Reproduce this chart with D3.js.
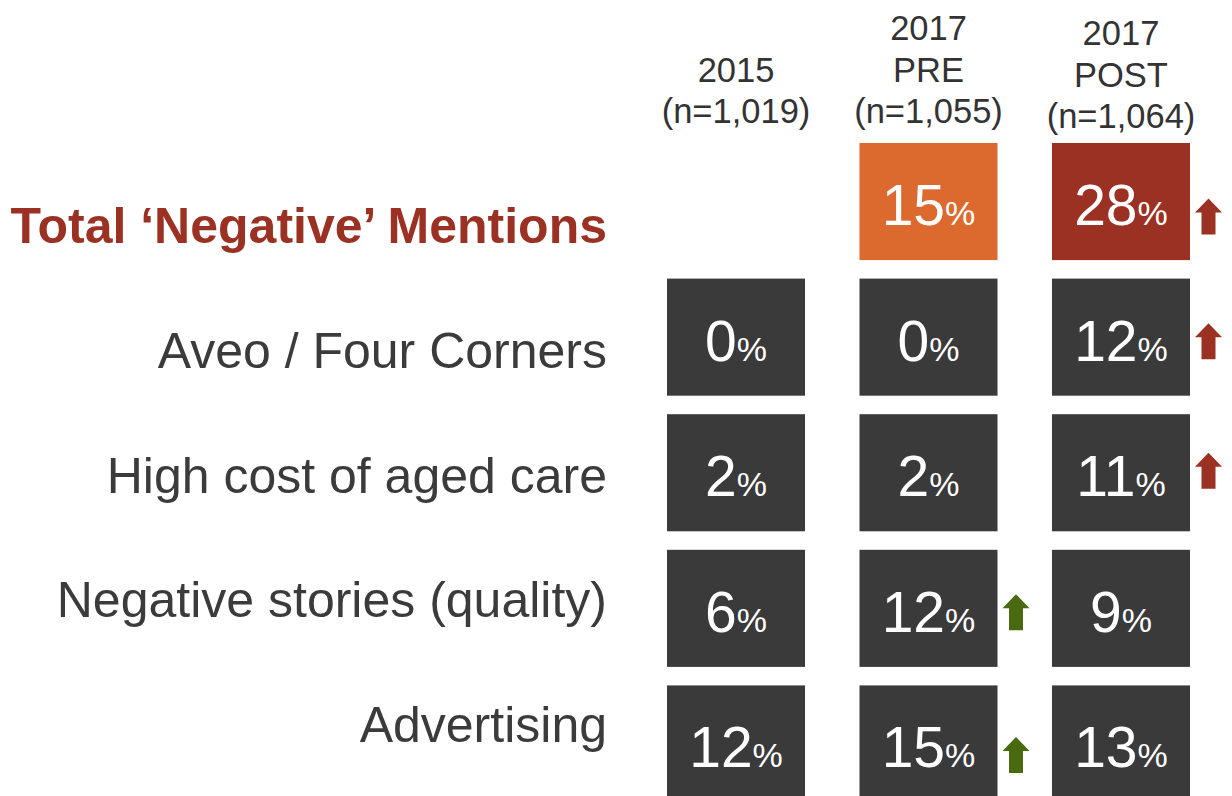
<!DOCTYPE html>
<html>
<head>
<meta charset="utf-8">
<script src="https://cdn.jsdelivr.net/npm/d3@7"></script>
<style>
  html, body { margin: 0; padding: 0; background: #fff; }
  svg { display: block; font-family: "Liberation Sans", Arial, sans-serif; }
</style>
</head>
<body>
<svg id="main_svg_container" width="1232" height="796"></svg>
<script>
// ---- data ----
var row_labels = ["Total \u2018Negative\u2019 Mentions", "Aveo / Four Corners", "High cost of aged care",
                  "Negative stories (quality)", "Advertising"];
var columns = ["2015", "2017 PRE", "2017 POST"];
var column_headers = [["2015", "(n=1,019)"], ["2017", "PRE", "(n=1,055)"], ["2017", "POST", "(n=1,064)"]];

var values_2015 = [null, 0, 2, 6, 12];
var values_pre = [15, 0, 2, 12, 15];
var values_post = [28, 12, 11, 9, 13];

// significant increase markers
var up_pre = [false, false, false, true, true];
var up_post = [true, true, true, false, false];

// ---- layout / styles ----
var box_color = "#3a3a3a";
var total_colors = { "2017 PRE": "#dc6a2f", "2017 POST": "#9b3123" };
var arrow_colors = { "2017 PRE": "#4a6a12", "2017 POST": "#9b3123" };
var header_dy = [0, 0, 5];
var arrow_dy = [15, 4, -2, 4, 11];

var svg = d3.select("#main_svg_container");

var x = d3.scaleBand()
    .domain(columns)
    .range([667, 1190])
    .paddingInner(0.283);

var y = d3.scaleBand()
    .domain(d3.range(row_labels.length))
    .range([143, 802.5])
    .paddingInner(0.1365);

var label_y = d3.scalePoint()
    .domain(d3.range(row_labels.length))
    .range([243, 742]);

// build cells
var cells = [];
var series = [values_2015, values_pre, values_post];
var ups = [null, up_pre, up_post];
columns.forEach(function(col, ci) {
  series[ci].forEach(function(v, ri) {
    if (v === null) return;
    cells.push({ col: col, row: ri, value: v, up: ups[ci] ? ups[ci][ri] : false });
  });
});

// column headers
column_headers.forEach(function(lines, ci) {
  var cx = x(columns[ci]) + x.bandwidth() / 2;
  var n = lines.length;
  svg.append("text")
      .attr("class", "svg_text")
      .attr("x", cx)
      .attr("text-anchor", "middle")
      .attr("fill", "#333")
      .style("font-size", "34.5px")
    .selectAll("tspan")
    .data(lines)
    .join("tspan")
      .attr("x", cx)
      .attr("y", function(d, i) { return 123 + header_dy[ci] - (n - 1 - i) * 41.5; })
      .text(function(d) { return d; });
});

// row labels
svg.selectAll(".row_label")
    .data(row_labels)
    .join("text")
    .attr("class", "row_label")
    .attr("x", 607)
    .attr("y", function(d, i) { return label_y(i); })
    .attr("text-anchor", "end")
    .attr("fill", function(d, i) { return i === 0 ? "#9b3123" : "#3b3b3b"; })
    .style("font-weight", function(d, i) { return i === 0 ? "bold" : "normal"; })
    .style("font-size", "50px")
    .text(function(d) { return d; });

// boxes
svg.selectAll(".cell_box")
    .data(cells)
    .join("rect")
    .attr("class", "cell_box")
    .attr("x", function(d) { return x(d.col); })
    .attr("y", function(d) { return y(d.row); })
    .attr("width", x.bandwidth())
    .attr("height", y.bandwidth())
    .attr("fill", function(d) { return d.row === 0 ? total_colors[d.col] : box_color; });

// values
var value_text = svg.selectAll(".cell_text")
    .data(cells)
    .join("text")
    .attr("class", "cell_text")
    .attr("x", function(d) { return x(d.col) + x.bandwidth() / 2; })
    .attr("y", function(d) { return y(d.row) + y.bandwidth() / 2 + 23.5; })
    .attr("text-anchor", "middle")
    .attr("fill", "#fff");

value_text.append("tspan")
    .style("font-size", "57px")
    .text(function(d) { return d.value; });
value_text.append("tspan")
    .style("font-size", "34px")
    .text("%");

// up arrows
var aw = 27, ah = 36, head_h = 14, shaft_w = 14;
function arrowPath(d) {
  var left = x(d.col) + x.bandwidth() + 5;
  var cy = y(d.row) + y.bandwidth() / 2 + arrow_dy[d.row];
  var top = cy - ah / 2, bottom = cy + ah / 2;
  var mid = left + aw / 2;
  return "M" + mid + "," + top +
         "L" + (left + aw) + "," + (top + head_h) +
         "L" + (mid + shaft_w / 2) + "," + (top + head_h) +
         "L" + (mid + shaft_w / 2) + "," + bottom +
         "L" + (mid - shaft_w / 2) + "," + bottom +
         "L" + (mid - shaft_w / 2) + "," + (top + head_h) +
         "L" + left + "," + (top + head_h) + "Z";
}

svg.selectAll(".up_arrow")
    .data(cells.filter(function(d) { return d.up; }))
    .join("path")
    .attr("class", "up_arrow")
    .attr("d", arrowPath)
    .attr("fill", function(d) { return arrow_colors[d.col]; });
</script>
</body>
</html>
